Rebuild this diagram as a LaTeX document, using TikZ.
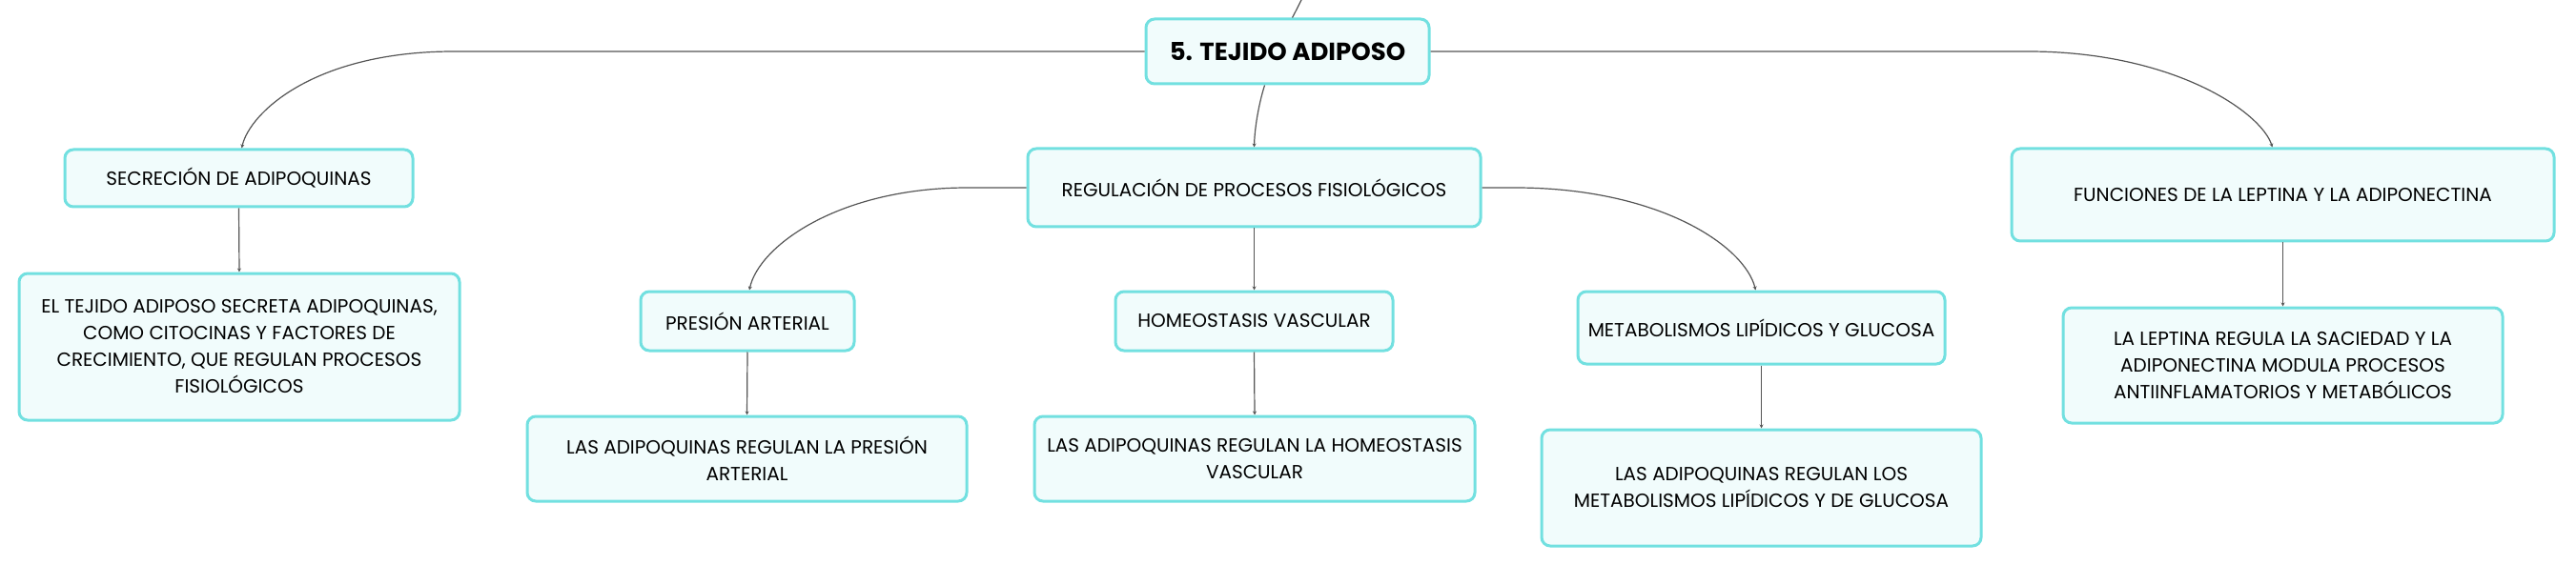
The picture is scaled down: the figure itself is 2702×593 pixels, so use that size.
\documentclass[tikz,border=0pt]{standalone}
\usepackage{fontspec}
\setmainfont{Poppins}
\usetikzlibrary{arrows.meta}
\definecolor{boxline}{HTML}{72E0E0}
\definecolor{boxfill}{HTML}{F1FCFC}
\definecolor{linkgray}{HTML}{555555}
\tikzset{
  topic/.style={draw=boxline,fill=boxfill,line width=1.5pt,rounded corners=4.5pt,align=center,inner sep=0pt,font=\fontsize{10}{14}\selectfont},
  link/.style={draw=linkgray,line width=0.6pt},
  arrowlink/.style={link,-{Stealth[length=2pt,width=2pt]}}
}
\begin{document}
\begin{tikzpicture}[x=0.5pt,y=-0.5pt]
		\useasboundingbox (0,0) rectangle (2702,593);
		\node[topic,minimum width=148.5pt,minimum height=34pt,font=\fontsize{13}{15}\bfseries] (tejido) at (1350.5,54) {5. TEJIDO ADIPOSO};
		\node[topic,minimum width=182.5pt,minimum height=30pt] (secrecion) at (250.5,187) {SECRECIÓN DE ADIPOQUINAS};
		\node[topic,minimum width=231pt,minimum height=77pt] (secreta) at (251,364) {EL TEJIDO ADIPOSO SECRETA ADIPOQUINAS,\\COMO CITOCINAS Y FACTORES DE\\CRECIMIENTO, QUE REGULAN PROCESOS\\FISIOLÓGICOS};
		\node[topic,minimum width=237.5pt,minimum height=41pt] (regulacion) at (1315.5,197) {REGULACIÓN DE PROCESOS FISIOLÓGICOS};
		\node[topic,minimum width=112pt,minimum height=31pt] (presion) at (784,337) {PRESIÓN ARTERIAL};
		\node[topic,minimum width=230.5pt,minimum height=44.5pt] (presiontxt) at (783.5,481.5) {LAS ADIPOQUINAS REGULAN LA PRESIÓN\\ARTERIAL};
		\node[topic,minimum width=145.5pt,minimum height=31pt] (homeo) at (1315.5,337) {HOMEOSTASIS VASCULAR};
		\node[topic,minimum width=231pt,minimum height=44.5pt] (homeotxt) at (1316,481.5) {LAS ADIPOQUINAS REGULAN LA HOMEOSTASIS\\VASCULAR};
		\node[topic,minimum width=192.5pt,minimum height=38pt] (metab) at (1847.5,344) {METABOLISMOS LIPÍDICOS Y GLUCOSA};
		\node[topic,minimum width=230.5pt,minimum height=61pt] (metabtxt) at (1847.5,512) {LAS ADIPOQUINAS REGULAN LOS\\METABOLISMOS LIPÍDICOS Y DE GLUCOSA};
		\node[topic,minimum width=284.5pt,minimum height=48.5pt] (funciones) at (2394.5,204.5) {FUNCIONES DE LA LEPTINA Y LA ADIPONECTINA};
		\node[topic,minimum width=230.5pt,minimum height=60.5pt] (leptina) at (2394.5,383.5) {LA LEPTINA REGULA LA SACIEDAD Y LA\\ADIPONECTINA MODULA PROCESOS\\ANTIINFLAMATORIOS Y METABÓLICOS};
		\coordinate (parent) at (1366,-2);
		% branches of the title
		\draw[link] ([xshift=2.5pt]tejido.north) .. controls (1360,10) .. (parent);
		\draw[arrowlink] (tejido.west) -- (476,54) .. controls (330,54) and (262,118) .. ([xshift=1.5pt]secrecion.north);
		\draw[arrowlink] (tejido.east) -- (2127,54) .. controls (2280,54) and (2372,118) .. ([xshift=-5.5pt]funciones.north);
		\draw[arrowlink] ([xshift=-12pt]tejido.south) .. controls (1320,110) and (1316,135) .. (regulacion.north);
		% branches of the regulation
		\draw[arrowlink] (regulacion.west) -- (1015,197) .. controls (880,197) and (796,258) .. ([xshift=1pt]presion.north);
		\draw[arrowlink] (regulacion.east) -- (1589,197) .. controls (1740,197) and (1830,258) .. ([xshift=-3pt]metab.north);
		\draw[arrowlink] (regulacion.south) -- (homeo.north);
		% leaves
		\draw[arrowlink] (secrecion.south) -- (secreta.north);
		\draw[arrowlink] (presion.south) -- (presiontxt.north);
		\draw[arrowlink] (homeo.south) -- (homeotxt.north);
		\draw[arrowlink] (metab.south) -- (metabtxt.north);
		\draw[arrowlink] (funciones.south) -- (leptina.north);
	\end{tikzpicture}
\end{document}
